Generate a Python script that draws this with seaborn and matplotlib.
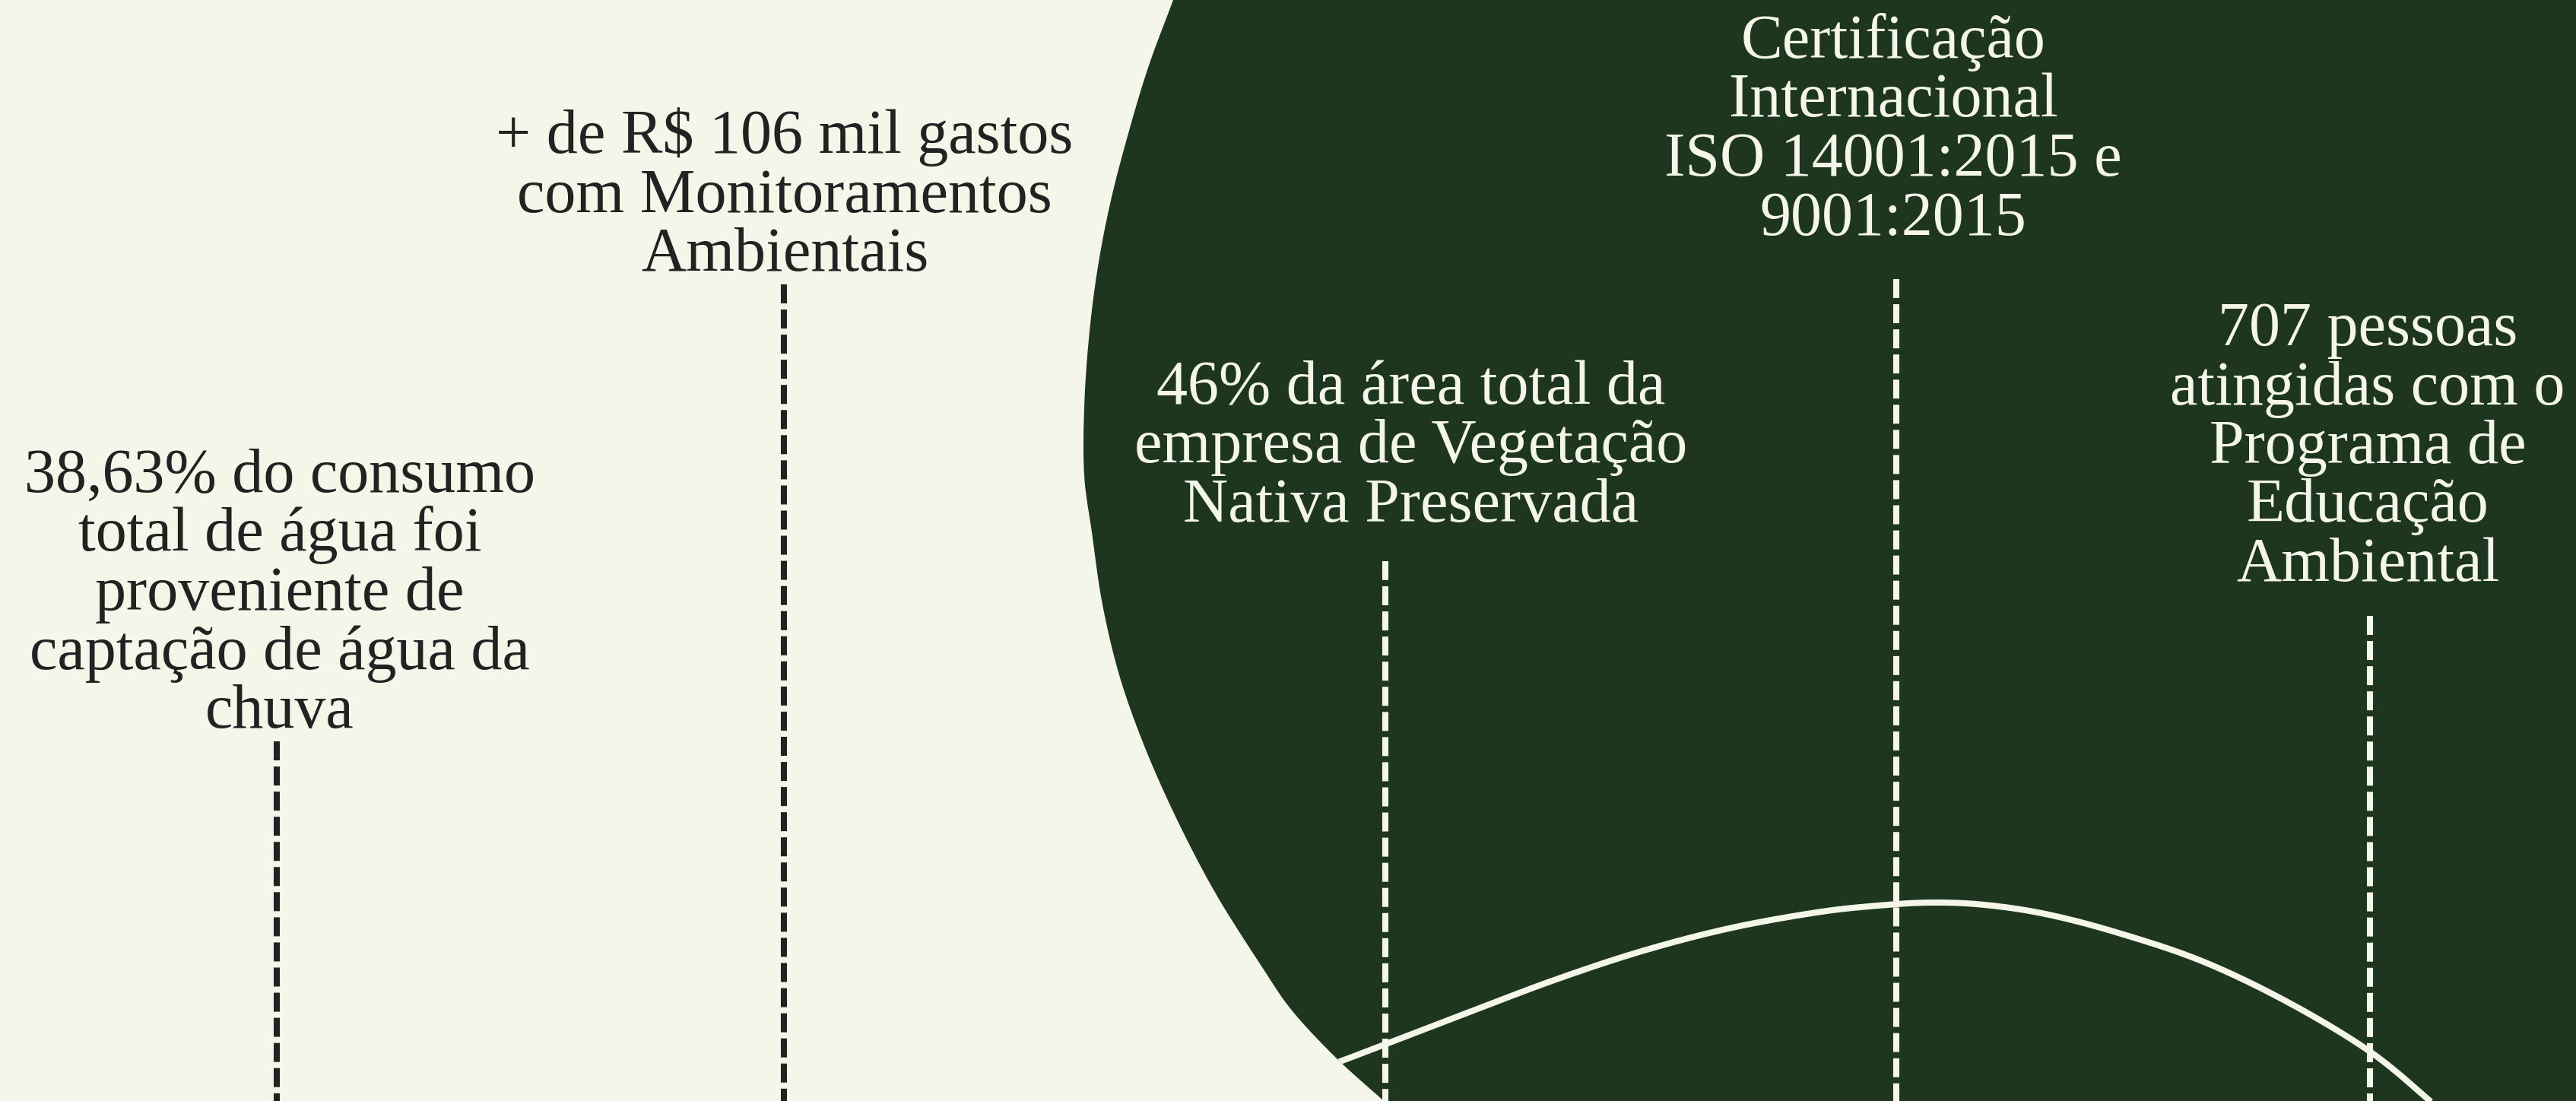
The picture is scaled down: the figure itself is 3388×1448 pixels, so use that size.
import numpy as np
import pandas as pd
import matplotlib
matplotlib.use("Agg")
import matplotlib.pyplot as plt
import seaborn as sns
from matplotlib.patches import Polygon

# ---------------- data ----------------
stat_water = ["38,63% do consumo", "total de água foi", "proveniente de",
              "captação de água da", "chuva"]
stat_monitor = ["+ de R$ 106 mil gastos", "com Monitoramentos", "Ambientais"]
stat_vegetation = ["46% da área total da", "empresa de Vegetação",
                   "Nativa Preservada"]
stat_iso = ["Certificação", "Internacional", "ISO 14001:2015 e", "9001:2015"]
stat_education = ["707 pessoas", "atingidas com o", "Programa de",
                  "Educação", "Ambiental"]

# decorative wave (pixel coords)
wave_x = [1680, 1760, 1823, 1930, 2044, 2159, 2274, 2389, 2470, 2540,
          2610, 2690, 2783, 2896, 3009, 3117, 3196, 3230]
wave_y = [1427, 1397, 1373, 1332, 1289, 1251, 1221, 1200, 1191, 1187,
          1190, 1202, 1226, 1264, 1318, 1383, 1448, 1480]

# left outline of the dark green shape
blob_x = [1543, 1510, 1483, 1460, 1443, 1432, 1426, 1426, 1436, 1450,
          1473, 1507, 1550, 1600, 1660, 1700, 1758, 1820]
blob_y = [0, 89, 179, 268, 357, 446, 536, 625, 700, 795,
          891, 986, 1082, 1177, 1272, 1330, 1392, 1448]

# ---------------- layout ----------------
W, H = 3388, 1448
CREAM = "#F5F6EA"
GREEN = "#1E3520"
INK = "#222222"

blocks = [
    (stat_water, 368, 647, INK),
    (stat_monitor, 1032, 201, INK),
    (stat_vegetation, 1856, 531, CREAM),
    (stat_iso, 2490, 76, CREAM),
    (stat_education, 3114, 454, CREAM),
]
PITCH = 77.5
FONT_SIZE = 59
markers = [  # x, top y, colour
    (364, 975, INK),
    (1031, 374, INK),
    (1822, 738, CREAM),
    (2494, 367, CREAM),
    (3117, 810, CREAM),
]

sns.set_theme(style="white")
plt.rcParams["font.family"] = ["Liberation Serif", "DejaVu Serif"]
plt.rcParams["lines.scale_dashes"] = False


def catmull_rom(xs, ys, n=24):
    p = np.column_stack([xs, ys]).astype(float)
    p = np.vstack([2 * p[0] - p[1], p, 2 * p[-1] - p[-2]])
    out = []
    for i in range(1, len(p) - 2):
        p0, p1, p2, p3 = p[i - 1], p[i], p[i + 1], p[i + 2]
        t = np.linspace(0, 1, n, endpoint=False)[:, None]
        seg = 0.5 * ((2 * p1) + (-p0 + p2) * t
                     + (2 * p0 - 5 * p1 + 4 * p2 - p3) * t ** 2
                     + (-p0 + 3 * p1 - 3 * p2 + p3) * t ** 3)
        out.append(seg)
    out.append(p[-2][None, :])
    return np.vstack(out)


fig = plt.figure(figsize=(W / 100, H / 100), dpi=100, facecolor=CREAM)
ax = fig.add_axes([0, 0, 1, 1])
ax.set_facecolor(CREAM)

outline = catmull_rom(blob_x, blob_y)
poly_pts = np.vstack([[[blob_x[0] + 5, -20]], outline,
                      [[blob_x[-1] + 50, H + 40]],
                      [[W + 20, H + 40]], [[W + 20, -20]]])
blob = Polygon(poly_pts, closed=True, facecolor=GREEN, edgecolor="none",
               zorder=1)
ax.add_patch(blob)

# wave (smooth path through the read points)
wave_path = catmull_rom(wave_x, wave_y, n=16)
wave_df = pd.DataFrame({"x": wave_path[:, 0], "y": wave_path[:, 1]})
sns.lineplot(data=wave_df, x="x", y="y", sort=False, estimator=None, ax=ax,
             color=CREAM, linewidth=5.8, zorder=3, legend=False)
ax.lines[-1].set_clip_path(blob)
ax.lines[-1].set_solid_capstyle("butt")

# dashed markers
for x, top, col in markers:
    df = pd.DataFrame({"x": [x, x], "y": [top, H + 10]})
    sns.lineplot(data=df, x="x", y="y", sort=False, estimator=None, ax=ax,
                 color=col, linewidth=5.8, linestyle=(0, (18, 5.8)),
                 zorder=4, legend=False)
    ax.lines[-1].set_dash_capstyle("butt")

# texts
for lines, cx, base, col in blocks:
    for i, line in enumerate(lines):
        ax.text(cx, base + i * PITCH, line, ha="center", va="baseline",
                fontsize=FONT_SIZE, color=col, zorder=5)

ax.set_xlim(0, W)
ax.set_ylim(H, 0)
ax.axis("off")
fig.savefig("out.png", dpi=100, facecolor=CREAM)
